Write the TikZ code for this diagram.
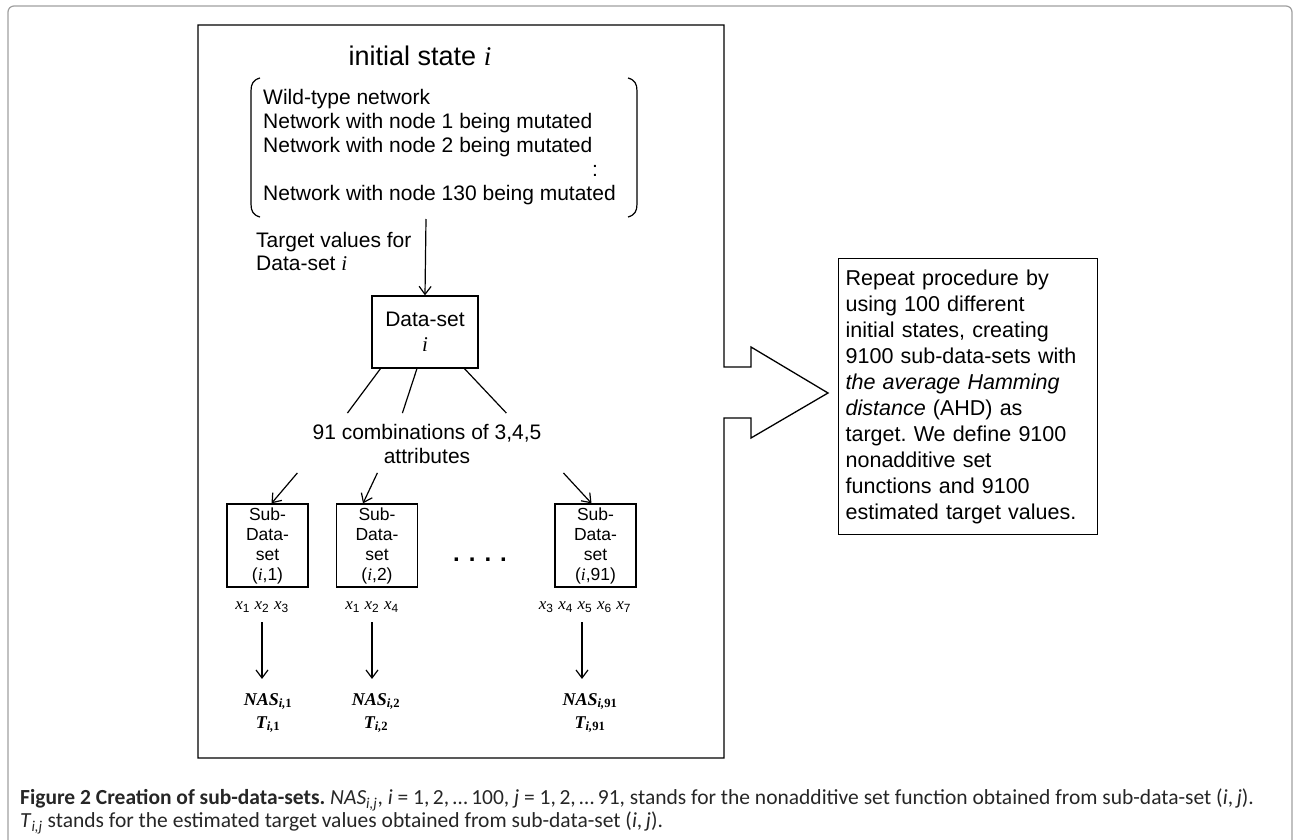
\documentclass[tikz,border=0pt]{standalone}
\usepackage{fontspec}
\setmainfont{Liberation Sans}
\newfontfamily\timesf{Liberation Serif}
\newfontfamily\capfont{Carlito}
\usetikzlibrary{positioning,calc,arrows.meta}
\frenchspacing

\tikzset{
  box/.style={draw, line width=1.3pt, inner sep=0pt},
  subbox/.style={box, minimum width=81pt, minimum height=83pt, align=center, font=\fontsize{17.5}{20}\selectfont},
  lbl/.style={inner sep=0pt, font=\fontsize{21}{24}\selectfont},
  xvar/.style={inner sep=0pt, font=\fontsize{17}{20}\selectfont},
  nas/.style={inner sep=0pt, align=center, font=\timesf\bfseries\itshape\fontsize{18}{23}\selectfont},
  conn/.style={line width=1.2pt},
  arr/.style={conn, -{Straight Barb[length=8pt,width=12pt]}},
}
\newcommand{\ivar}{{\timesf\itshape i}}
\newcommand{\xv}[1]{{\timesf\itshape x}\textsubscript{#1}}

\begin{document}
\begin{tikzpicture}[x=1pt,y=-1pt]
\useasboundingbox (0,0) rectangle (1294,840);

% outer frame
\draw[gray!75, line width=1.2pt, rounded corners=6pt] (8,842) -- (8,6) -- (1292,6) -- (1292,842);

% main box with block arrow
\draw[line width=1.3pt] (198,25) -- (724,25) -- (724,367) -- (751,367) -- (751,347) -- (828,393)
  -- (751,438) -- (751,418) -- (724,418) -- (724,758) -- (198,758) -- cycle;

\node[font=\fontsize{27}{30}\selectfont] (T) at (420,56) {initial state \ivar};

% initial states
\node[lbl, align=left, anchor=north west] (L) at (263,89) {Wild-type network\\
  Network with node 1 being mutated\\
  Network with node 2 being mutated\\
  \hspace*{329pt}:\\
  Network with node 130 being mutated};
\draw[conn] (260,78) .. controls (253,80) and (251,84) .. (251,91) -- (251,204) .. controls (251,211) and (253,215) .. (260,217);
\draw[conn] (628,78) .. controls (635,80) and (637,84) .. (637,91) -- (637,204) .. controls (637,211) and (635,215) .. (628,217);
\coordinate (L_b) at (426,219);

\node[lbl, align=left, anchor=north west, font=\fontsize{21}{23}\selectfont] (V) at (256,232) {Target values for\\Data-set \ivar};

\node[box, minimum width=106pt, minimum height=72pt, align=center, font=\fontsize{21}{25}\selectfont] (D) at (425,332) {Data-set\\\ivar};
\draw[arr] (L_b) -- (D.north);

\node[lbl, align=center] (C) at (427,444) {91 combinations of 3,4,5\\attributes};
\draw[conn] ($(D.south west)!0.085!(D.south east)$) -- ($(C.north west)+(35,-11)$);
\draw[conn] ($(D.south west)!0.425!(D.south east)$) -- ($(C.north west)+(90,-11)$);
\draw[conn] ($(D.south west)!0.868!(D.south east)$) -- ($(C.north west)+(194,-11)$);

% sub-data-sets
\node[subbox] (S_1) at (267.5,545.5) {Sub-\\Data-\\set\\(\ivar,1)};
\node[subbox] (S_2) at (377,545.5) {Sub-\\Data-\\set\\(\ivar,2)};
\node[subbox] (S_3) at (595.5,545.5) {Sub-\\Data-\\set\\(\ivar,91)};
\node[font=\bfseries\fontsize{24}{24}\selectfont] (dots) at (480,560) {.\hspace{9pt}.\hspace{9pt}.\hspace{9pt}.};

\draw[arr] ($(C.south west)+(-15,9)$) -- ($(S_1.north)+(4,0)$);
\draw[arr] ($(C.south west)+(65,9)$) -- ($(S_2.north)+(-14,0)$);
\draw[arr] ($(C.south west)+(251,9)$) -- ($(S_3.north)+(-4,0)$);

\node[xvar] (X_1) at (262,607) {\xv{1} \xv{2} \xv{3}};
\node[xvar] (X_2) at (372,607) {\xv{1} \xv{2} \xv{4}};
\node[xvar] (X_3) at (585,607) {\xv{3} \xv{4} \xv{5} \xv{6} \xv{7}};
\coordinate (X_3s) at ($(X_3.south)+(-3,0)$);

\node[nas] (N_1) at (268,713) {NAS\textsubscript{i,\upshape 1}\\T\textsubscript{i,\upshape 1}};
\node[nas] (N_2) at (376,713) {NAS\textsubscript{i,\upshape 2}\\T\textsubscript{i,\upshape 2}};
\node[nas] (N_3) at (590,713) {NAS\textsubscript{i,\upshape 91}\\T\textsubscript{i,\upshape 91}};

\draw[arr, shorten <=10pt, shorten >=14pt] (X_1.south) -- (X_1.south |- N_1.north);
\draw[arr, shorten <=10pt, shorten >=14pt] (X_2.south) -- (X_2.south |- N_2.north);
\draw[arr, shorten <=10pt, shorten >=14pt] (X_3s) -- (X_3s |- N_3.north);

% repeat procedure
\node[box, anchor=north west, minimum width=259pt, minimum height=276pt, text width=245pt, inner xsep=7pt,
  align=left, font=\fontsize{21.5}{26}\selectfont] (R) at (838,258) {Repeat procedure by\\
  using 100 different\\
  initial states, creating\\
  9100 sub-data-sets with\\
  \textit{the average Hamming}\\
  \textit{distance} (AHD) as\\
  target. We define 9100\\
  nonadditive set\\
  functions and 9100\\
  estimated target values.};

% caption
\node[anchor=north west, align=left, inner sep=0pt, text=black!85, font=\capfont\fontsize{21.5}{23}\selectfont] (cap) at (20,789)
  {\textbf{Figure 2 Creation of sub-data-sets.} \textit{NAS}\textsubscript{\textit{i,j}}, \textit{i} = 1,\,2,\,\dots\,100, \textit{j} = 1,\,2,\,\dots\,91, stands for the nonadditive set function obtained from sub-data-set (\textit{i},\,\textit{j}).\\
  \textit{T}\textsubscript{\textit{i,j}} stands for the estimated target values obtained from sub-data-set (\textit{i},\,\textit{j}).};
\end{tikzpicture}
\end{document}
